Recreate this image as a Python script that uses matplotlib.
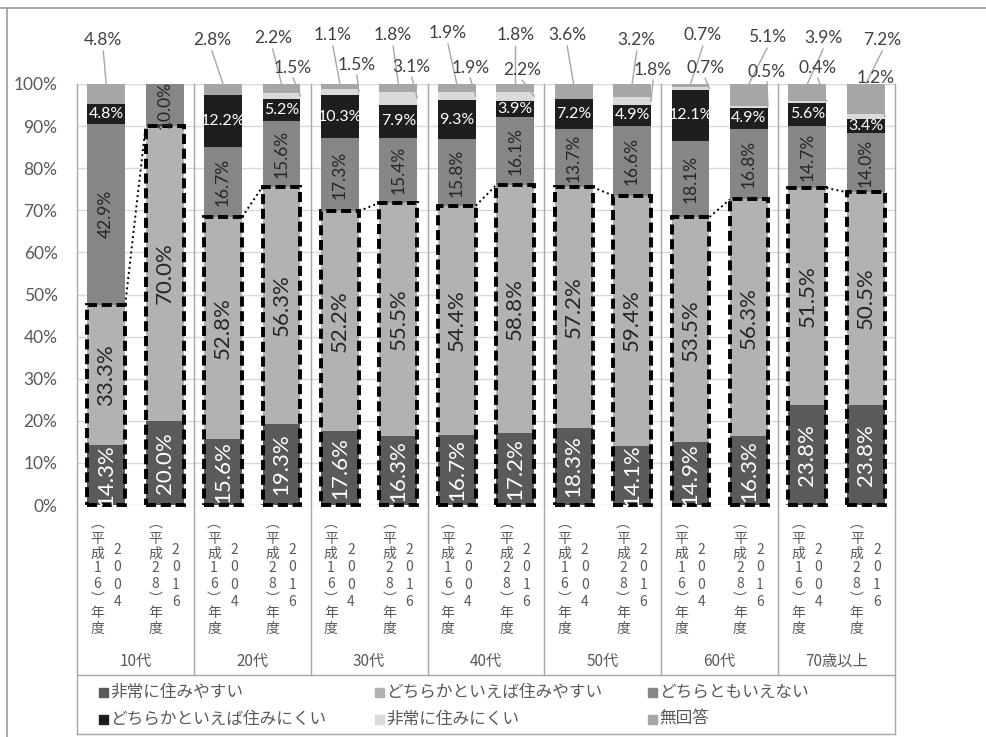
# -*- coding: utf-8 -*-
# 年代別・住みやすさの評価（2004年度と2016年度の比較）
import matplotlib
matplotlib.use('Agg')
import matplotlib.pyplot as plt
import matplotlib.transforms as mtransforms
from matplotlib.patches import Rectangle
from matplotlib.lines import Line2D

plt.rcParams['font.family'] = ['Noto Sans CJK JP', 'DejaVu Sans']
NUM_FONT = ['Lato', 'DejaVu Sans']

# ============================================================
# データ
# ============================================================
groups = ['10代', '20代', '30代', '40代', '50代', '60代', '70歳以上']
years = ['2004', '2016']
heisei = ['16', '28']

series_names = ['非常に住みやすい', 'どちらかといえば住みやすい', 'どちらともいえない',
                'どちらかといえば住みにくい', '非常に住みにくい', '無回答']
colors = ['#5a5a5a', '#b2b2b2', '#868686', '#1e1e1e', '#dadada', '#a6a6a6']

very_easy = [14.3, 20.0, 15.6, 19.3, 17.6, 16.3, 16.7, 17.2, 18.3, 14.1, 14.9, 16.3, 23.8, 23.8]
rather_easy = [33.3, 70.0, 52.8, 56.3, 52.2, 55.5, 54.4, 58.8, 57.2, 59.4, 53.5, 56.3, 51.5, 50.5]
neither = [42.9, 10.0, 16.7, 15.6, 17.3, 15.4, 15.8, 16.1, 13.7, 16.6, 18.1, 16.8, 14.7, 14.0]
rather_hard = [4.8, 0.0, 12.2, 5.2, 10.3, 7.9, 9.3, 3.9, 7.2, 4.9, 12.1, 4.9, 5.6, 3.4]
very_hard = [0.0, 0.0, 0.0, 1.5, 1.5, 3.1, 1.9, 2.2, 0.0, 1.8, 0.7, 0.5, 0.4, 1.2]
no_answer = [4.8, 0.0, 2.8, 2.2, 1.1, 1.8, 1.9, 1.8, 3.6, 3.2, 0.7, 5.1, 3.9, 7.2]

series = [very_easy, rather_easy, neither, rather_hard, very_hard, no_answer]

# 棒の上に出す小さい値のラベル位置（棒中心からのずれ, 縦位置%）
na_label_pos = [(-0.05, 110.4), None, (-0.19, 110.4), (-0.15, 110.9), (-0.12, 111.6),
                (-0.09, 111.6), (-0.15, 112.1), (0.00, 111.6), (-0.11, 111.6), (0.08, 110.4),
                (0.21, 111.6), (0.31, 111.1), (0.27, 110.9), (0.28, 110.4)]
vh_label_pos = [None, None, None, (0.20, 103.8), (0.29, 104.5),
                (0.23, 104.0), (0.23, 103.8), (0.12, 103.3), None, (0.36, 103.3),
                (0.25, 103.8), (0.31, 102.9), (0.18, 103.8), (0.16, 101.4)]

# ============================================================
# 図の作成
# ============================================================
W, H = 987, 737
fig = plt.figure(figsize=(W / 100, H / 100), dpi=100)
ax = fig.add_axes([77 / W, 1 - 505 / H, 818 / W, 421 / H])

n = len(very_easy)
x = list(range(n))
bw = 0.65

cum = [0.0] * n
bottoms = []
for vals, c in zip(series, colors):
    bottoms.append(cum[:])
    ax.bar(x, vals, bottom=cum, width=bw, color=c, zorder=2)
    cum = [a + b for a, b in zip(cum, vals)]

ax.set_xlim(-0.5, n - 0.5)
ax.set_ylim(0, 100)
ax.set_xticks([])
ax.set_yticks(range(0, 101, 10))
ax.set_yticklabels([f'{v}%' for v in range(0, 101, 10)], fontsize=12.5,
                   color='#595959', family=NUM_FONT)
ax.tick_params(axis='y', length=0, pad=14)
ax.yaxis.grid(True, color='#d9d9d9', linewidth=1)
ax.set_axisbelow(True)
for sp in ax.spines.values():
    sp.set_visible(False)

trans = mtransforms.blended_transform_factory(ax.transData, fig.transFigure)


def fy(py):
    return 1 - py / H


# 区切り線（年代の境界・枠）
line_kw = dict(color='#a6a6a6', linewidth=1, transform=trans, clip_on=False)
for b in range(-1, n, 2):
    xb = b + 0.5
    end = 734 if b in (-1, n - 1) else 675
    fig.add_artist(Line2D([xb, xb], [fy(84), fy(end)], **line_kw))
for py in (675, 734):
    fig.add_artist(Line2D([-0.5, n - 0.5], [fy(py), fy(py)], **line_kw))

# 外枠
fig.add_artist(Line2D([0, 1], [fy(8), fy(8)], color='#9a9a9a', linewidth=1.2,
                      transform=fig.transFigure))
fig.add_artist(Line2D([7 / W, 7 / W], [fy(8), 0], color='#9a9a9a', linewidth=1.2,
                      transform=fig.transFigure))

# 「住みやすい」合計の破線枠と、年度間をつなぐ点線
for i in range(n):
    top = very_easy[i] + rather_easy[i]
    ax.add_patch(Rectangle((i - bw / 2, 0), bw, top, fill=False, edgecolor='black',
                           linewidth=2.8, linestyle=(0, (2.6, 1.2)), zorder=5,
                           clip_on=False))
for i in range(0, n, 2):
    t0 = very_easy[i] + rather_easy[i]
    t1 = very_easy[i + 1] + rather_easy[i + 1]
    ax.plot([i + bw / 2, i + 1 - bw / 2], [t0, t1], color='black', linestyle=':',
            linewidth=1.4, zorder=5)

# 棒の中のラベル
for i in range(n):
    for s in range(4):
        v = series[s][i]
        if v <= 0:
            continue
        yc = bottoms[s][i] + v / 2
        if s == 3:
            ax.text(i, yc, f'{v:.1f}%', ha='center', va='center', color='white',
                    fontsize=11.5, family=NUM_FONT, zorder=6)
        else:
            size = 12.5 if s == 2 else 16
            col = 'white' if s == 0 else '#262626'
            ax.text(i, yc, f'{v:.1f}%', ha='center', va='center', rotation=90,
                    rotation_mode='anchor', color=col, fontsize=size,
                    family=NUM_FONT, zorder=6)

# 棒の上のラベルと引き出し線
for i in range(n):
    pos = na_label_pos[i]
    if pos is not None and no_answer[i] > 0:
        lx, ly = i + pos[0], pos[1]
        ax.plot([lx, i], [ly - 2.6, 100], color='#a6a6a6', linewidth=1,
                clip_on=False, zorder=3)
        ax.text(lx, ly, f'{no_answer[i]:.1f}%', ha='center', va='center',
                color='#404040', fontsize=12.5, family=NUM_FONT, clip_on=False,
                zorder=6)
    pos = vh_label_pos[i]
    if pos is not None and very_hard[i] > 0:
        lx, ly = i + pos[0], pos[1]
        mid = bottoms[4][i] + very_hard[i] / 2
        ax.plot([lx, i + bw / 2], [ly - 2.4, mid], color='#a6a6a6', linewidth=1,
                clip_on=False, zorder=3)
        ax.text(lx, ly, f'{very_hard[i]:.1f}%', ha='center', va='center',
                color='#404040', fontsize=12.5, family=NUM_FONT, clip_on=False,
                zorder=6)


# 縦書きの年度ラベル
def stacked(xc, chars, step_px, center_py, size):
    m = len(chars)
    for k, ch in enumerate(chars):
        py = center_py + (k - (m - 1) / 2) * step_px
        ax.text(xc, fy(py), ch, transform=trans, ha='center', va='center',
                fontsize=size, color='#595959', clip_on=False)


for i in range(n):
    yr = years[i % 2]
    hs = heisei[i % 2]
    stacked(i - 0.155, ['︵', '平', '成', hs[0], hs[1], '︶', '年', '度'], 15, 576, 10)
    stacked(i + 0.19, list(yr), 17.3, 576, 10)

for g, name in enumerate(groups):
    ax.text(2 * g + 0.5, fy(661), name, transform=trans, ha='center', va='center',
            fontsize=11, color='#595959', clip_on=False)

# 凡例
leg_x = [99, 375, 648]
leg_y = [692, 719]
for s, name in enumerate(series_names):
    px = leg_x[s % 3]
    py = leg_y[s // 3]
    fig.add_artist(Rectangle((px / W, fy(py + 4.5)), 9 / W, 9 / H, color=colors[s],
                             transform=fig.transFigure))
    fig.text((px + 11) / W, fy(py), name, ha='left', va='center', fontsize=12,
             color='#595959')

fig.savefig('out.png', dpi=100)
